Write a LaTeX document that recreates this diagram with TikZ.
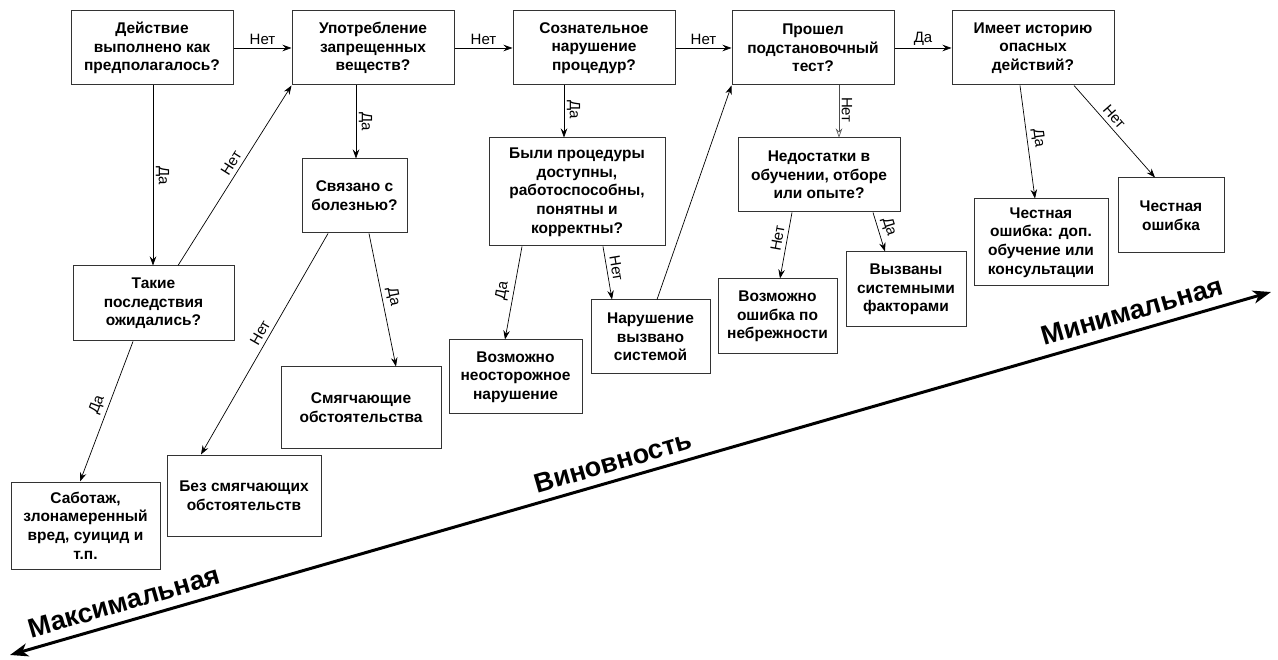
\documentclass[tikz,border=0pt]{standalone}
\usepackage{fontspec}
\setmainfont{Liberation Sans}
\usetikzlibrary{arrows.meta}
\tikzset{
  box/.style={draw=black!80, line width=1pt, fill=white, align=center, inner sep=0pt,
    font=\bfseries\fontsize{15.5}{18.7}\selectfont},
  arr/.style={-{Stealth[length=9pt,width=6.5pt,inset=3pt]}, line width=0.7pt},
  openarr/.style={-{Stealth[open,length=9pt,width=6.5pt,inset=3pt,fill=white]}, line width=0.6pt, draw=black!70},
  lbl/.style={font=\fontsize{15}{17}\selectfont, inner sep=2.5pt},
  slbl/.style={lbl, sloped, above=1.5pt},
  axislbl/.style={font=\bfseries\fontsize{27}{30}\selectfont, rotate=16.06, inner sep=0pt},
  axisarr/.style={line width=3pt, {Stealth[length=18pt,width=13pt,inset=5pt]}-{Stealth[length=18pt,width=13pt,inset=5pt]}}
}
\begin{document}
\begin{tikzpicture}[x=1pt,y=-1pt]
\useasboundingbox (0,0) rectangle (1278,660);
% top row
\node[box, minimum width=162pt, minimum height=74pt] (A) at (152,48) {Действие\\выполнено как\\предполагалось?};
\node[box, minimum width=162pt, minimum height=74pt] (B) at (373,48) {Употребление\\запрещенных\\веществ?};
\node[box, minimum width=162pt, minimum height=74pt] (C) at (594,48) {Сознательное\\нарушение\\процедур?};
\node[box, minimum width=162pt, minimum height=74pt] (D) at (813,48) {Прошел\\подстановочный\\тест?};
\node[box, minimum width=162pt, minimum height=74pt] (E) at (1033,48) {Имеет историю\\опасных\\действий?};
% second level
\node[box, minimum width=161pt, minimum height=75pt] (T) at (153.5,303.5) {Такие\\последствия\\ожидались?};
\node[box, minimum width=105pt, minimum height=74pt] (S) at (354.5,196) {Связано с\\болезнью?};
\node[box, minimum width=176pt, minimum height=108pt] (P) at (577,192) {Были процедуры\\доступны,\\работоспособны,\\понятны и\\корректны?};
\node[box, minimum width=162pt, minimum height=74pt] (N) at (819,175) {Недостатки в\\обучении, отборе\\или опыте?};
% outcomes
\node[box, minimum width=149pt, minimum height=87pt] (SB) at (85.5,525.5) {Саботаж,\\злонамеренный\\вред, суицид и\\т.п.};
\node[box, minimum width=154pt, minimum height=81pt] (BZ) at (244,495.5) {Без смягчающих\\обстоятельств};
\node[box, minimum width=160pt, minimum height=81pt] (SM) at (361,407.5) {Смягчающие\\обстоятельства};
\node[box, minimum width=133pt, minimum height=74pt] (VN) at (515.5,377) {Возможно\\неосторожное\\нарушение};
\node[box, minimum width=119pt, minimum height=74pt] (NV) at (650.5,337) {Нарушение\\вызвано\\системой};
\node[box, minimum width=119pt, minimum height=75pt] (VO) at (777.5,316.5) {Возможно\\ошибка по\\небрежности};
\node[box, minimum width=120pt, minimum height=75pt] (VS) at (906,289.5) {Вызваны\\системными\\факторами};
\node[box, minimum width=134pt, minimum height=87pt] (CD) at (1041,242.5) {Честная\\ошибка: доп.\\обучение или\\консультации};
\node[box, minimum width=106pt, minimum height=75pt] (CO) at (1171,215.5) {Честная\\ошибка};
% horizontal connectors
\draw[arr] (A.east) -- node[lbl, above] {Нет} (B.west);
\draw[arr] (B.east) -- node[lbl, above] {Нет} (C.west);
\draw[arr] (C.east) -- node[lbl, above] {Нет} (D.west);
\draw[arr] (D.east) -- node[lbl, above] {Да} (E.west);
% vertical connectors
\draw[arr] ([xshift=1pt]A.south) -- node[lbl, pos=0.5, rotate=-90, anchor=south] {Да} ([xshift=-0.5pt]T.north);
\draw[arr] ([xshift=1.5pt]S.north |- B.south) -- node[lbl, pos=0.5, rotate=-90, anchor=south] {Да} ([xshift=1.5pt]S.north);
\draw[arr] ([xshift=-30pt]C.south) -- node[lbl, pos=0.47, rotate=-90, anchor=south] {Да} ([xshift=-13pt]P.north);
\draw[openarr] ([xshift=26pt]D.south) -- node[lbl, pos=0.47, rotate=-90, anchor=south, text=black] {Нет} ([xshift=20pt]N.north);
% sloped connectors
\draw[arr] ([xshift=24.5pt]T.north) -- node[slbl, pos=0.54] {Нет} (B.south west);
\draw[arr] ([xshift=14.5pt]S.south) -- node[slbl, pos=0.49] {Да} ([xshift=35pt]SM.north);
\draw[arr] ([xshift=-26.5pt]S.south) -- node[slbl, pos=0.47] {Нет} ([xshift=-43pt]BZ.north);
\draw[arr] ([xshift=-20.5pt]T.south) -- node[slbl, pos=0.48] {Да} ([xshift=-5.5pt]SB.north);
\draw[arr] ([xshift=-55pt]P.south) -- node[slbl, pos=0.5] {Да} ([xshift=-10.5pt]VN.north);
\draw[arr] ([xshift=26pt]P.south) -- node[slbl, pos=0.44] {Нет} ([xshift=-38.5pt]NV.north);
\draw[arr] ([xshift=6.5pt]NV.north) -- (D.south west);
\draw[arr] ([xshift=-27pt]N.south) -- node[slbl, pos=0.42] {Нет} ([xshift=2.5pt]VO.north);
\draw[arr] ([xshift=54pt]N.south) -- node[slbl, pos=0.45] {Да} ([xshift=-21pt]VS.north);
\draw[arr] ([xshift=-13pt]E.south) -- node[slbl, pos=0.48] {Да} ([xshift=-6pt]CD.north);
\draw[arr] ([xshift=41pt]E.south) -- node[slbl, pos=0.41] {Нет} ([xshift=-16pt]CO.north);
% culpability axis
\coordinate (axL) at (10,655);
\coordinate (axR) at (1271,292);
\draw[axisarr] (axL) -- (axR);
\node[axislbl] (lmax) at (124,602) {Максимальная};
\node[axislbl] (lmid) at (613,462) {Виновность};
\node[axislbl] (lmin) at (1132,311) {Минимальная};
\end{tikzpicture}
\end{document}
